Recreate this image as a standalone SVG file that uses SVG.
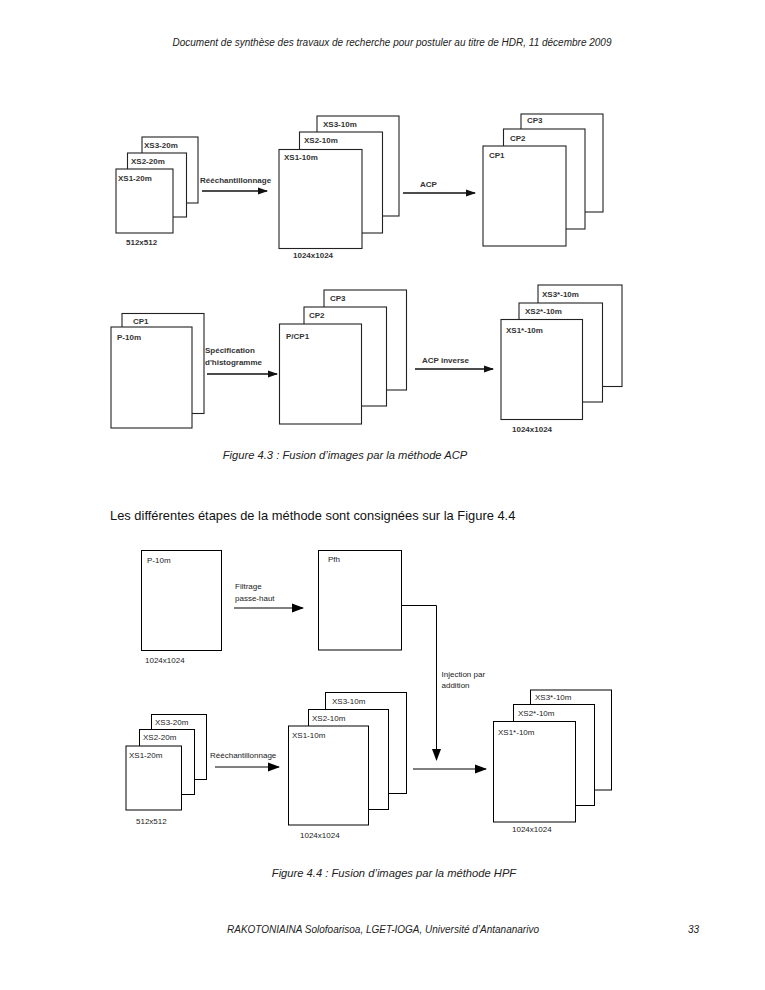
<svg xmlns="http://www.w3.org/2000/svg" width="765" height="990" viewBox="0 0 765 990">
<style>
.pg{fill:#fff}
.top{fill:#fff;stroke:#222;stroke-width:1.1}
.bot{fill:#fff;stroke:#000;stroke-width:1}
.lt{font-family:"Liberation Sans",Arial,sans-serif;font-size:8px;fill:#333;font-weight:bold}
.lb{font-family:"Liberation Sans",Arial,sans-serif;font-size:8px;fill:#222}
.it{font-family:"Liberation Sans",Arial,sans-serif;font-size:10px;font-style:italic;fill:#222}
.cap{font-family:"Liberation Sans",Arial,sans-serif;font-size:11.2px;font-style:italic;fill:#222}
.body{font-family:"Liberation Sans",Arial,sans-serif;font-size:12.9px;fill:#111}
.ln{stroke:#111;stroke-width:1.3;fill:none}
.ln2{stroke:#000;stroke-width:1;fill:none}
</style>
<defs>
<marker id="ah" markerWidth="10" markerHeight="8" refX="9" refY="4" orient="auto" markerUnits="userSpaceOnUse">
<path d="M0,0.5 L10,4 L0,7.5 Z" fill="#111"/>
</marker>
<marker id="ah2" markerWidth="12" markerHeight="10" refX="11" refY="5" orient="auto" markerUnits="userSpaceOnUse">
<path d="M0,0.5 L12,5 L0,9.5 Z" fill="#000"/>
</marker>
</defs>
<rect class="pg" x="0" y="0" width="765" height="990"/>
<text class="it" x="392" y="46" text-anchor="middle">Document de synthèse des travaux de recherche pour postuler au titre de HDR, 11 décembre 2009</text>

<!-- Figure 4.3 -->
<g id="xs20-stack">
<g id="n-xs3-20"><rect class="top" x="142" y="137" width="56" height="66"/><text class="lt" x="144" y="148">XS3-20m</text></g>
<g id="n-xs2-20"><rect class="top" x="127.5" y="153" width="59" height="64"/><text class="lt" x="131" y="164">XS2-20m</text></g>
<g id="n-xs1-20"><rect class="top" x="116" y="169" width="57" height="64"/><text class="lt" x="118" y="181">XS1-20m</text></g>
<text class="lt" x="126" y="245">512x512</text>
</g>
<g id="xs10-stack">
<g id="n-xs3-10"><rect class="top" x="317" y="116" width="82" height="100"/><text class="lt" x="323" y="127">XS3-10m</text></g>
<g id="n-xs2-10"><rect class="top" x="299.5" y="132" width="83" height="101"/><text class="lt" x="304" y="143">XS2-10m</text></g>
<g id="n-xs1-10"><rect class="top" x="279" y="149.5" width="83" height="99"/><text class="lt" x="284" y="160">XS1-10m</text></g>
<text class="lt" x="293" y="258">1024x1024</text>
</g>
<g id="cp-stack">
<g id="n-cp3"><rect class="top" x="521" y="114" width="82" height="98"/><text class="lt" x="527" y="123">CP3</text></g>
<g id="n-cp2"><rect class="top" x="503.5" y="129" width="81.5" height="100"/><text class="lt" x="510" y="141">CP2</text></g>
<g id="n-cp1"><rect class="top" x="483" y="146" width="83" height="100"/><text class="lt" x="489" y="158">CP1</text></g>
</g>
<g id="p-stack">
<g id="n-cp1b"><rect class="top" x="122" y="313.5" width="82" height="100"/><text class="lt" x="133" y="324">CP1</text></g>
<g id="n-p10"><rect class="top" x="111" y="327" width="81" height="101"/><text class="lt" x="117" y="340">P-10m</text></g>
</g>
<g id="pcp-stack">
<g id="n-cp3b"><rect class="top" x="324" y="290" width="82.5" height="100"/><text class="lt" x="330" y="301">CP3</text></g>
<g id="n-cp2b"><rect class="top" x="304" y="307" width="82.5" height="99"/><text class="lt" x="309" y="318">CP2</text></g>
<g id="n-pcp1"><rect class="top" x="279.5" y="324" width="82" height="100"/><text class="lt" x="286" y="339">P/CP1</text></g>
</g>
<g id="xsstar-stack">
<g id="n-xs3s"><rect class="top" x="538" y="285" width="84" height="101.5"/><text class="lt" x="542" y="297">XS3*-10m</text></g>
<g id="n-xs2s"><rect class="top" x="519" y="303" width="83.5" height="99"/><text class="lt" x="525" y="314">XS2*-10m</text></g>
<g id="n-xs1s"><rect class="top" x="501" y="319.5" width="81.5" height="100"/><text class="lt" x="506" y="333">XS1*-10m</text></g>
<text class="lt" x="512" y="432">1024x1024</text>
</g>
<g id="connectors-43">
<line class="ln" x1="202" y1="191" x2="267" y2="191" marker-end="url(#ah)"/>
<text class="lt" x="200" y="183">Rééchantillonnage</text>
<line class="ln" x1="403" y1="193" x2="475" y2="193" marker-end="url(#ah)"/>
<text class="lt" x="420" y="187">ACP</text>
<line class="ln" x1="207" y1="374" x2="277" y2="374" marker-end="url(#ah)"/>
<text class="lt" x="205" y="353">Spécification</text>
<text class="lt" x="205" y="365">d'histogramme</text>
<line class="ln" x1="415" y1="369" x2="493" y2="369" marker-end="url(#ah)"/>
<text class="lt" x="422" y="363">ACP inverse</text>
</g>
<text class="cap" x="345" y="459" text-anchor="middle">Figure 4.3 : Fusion d’images par la méthode ACP</text>

<text class="body" x="110" y="520">Les différentes étapes de la méthode sont consignées sur la Figure 4.4</text>

<!-- Figure 4.4 -->
<g id="n-p10m"><rect class="bot" x="141.5" y="550.5" width="80" height="100"/><text class="lb" x="147" y="563">P-10m</text><text class="lb" x="145" y="663">1024x1024</text></g>
<g id="n-pfh"><rect class="bot" x="318.5" y="550.5" width="83" height="99.5"/><text class="lb" x="328" y="562">Pfh</text></g>
<g id="xs20b-stack">
<g id="n-xs3-20b"><rect class="bot" x="151.5" y="714.5" width="55" height="65"/><text class="lb" x="155" y="725">XS3-20m</text></g>
<g id="n-xs2-20b"><rect class="bot" x="139.5" y="729.5" width="55" height="65"/><text class="lb" x="143" y="740">XS2-20m</text></g>
<g id="n-xs1-20b"><rect class="bot" x="126" y="746" width="55.5" height="64"/><text class="lb" x="129" y="758">XS1-20m</text></g>
<text class="lb" x="136" y="824">512x512</text>
</g>
<g id="xs10b-stack">
<g id="n-xs3-10b"><rect class="bot" x="325.5" y="692.5" width="81" height="101"/><text class="lb" x="332" y="704">XS3-10m</text></g>
<g id="n-xs2-10b"><rect class="bot" x="308.5" y="709.5" width="80" height="100"/><text class="lb" x="312" y="721">XS2-10m</text></g>
<g id="n-xs1-10b"><rect class="bot" x="288.5" y="726" width="80" height="99"/><text class="lb" x="292" y="738">XS1-10m</text></g>
<text class="lb" x="300" y="838">1024x1024</text>
</g>
<g id="xsstarb-stack">
<g id="n-xs3sb"><rect class="bot" x="530.5" y="690" width="81" height="100"/><text class="lb" x="535" y="700">XS3*-10m</text></g>
<g id="n-xs2sb"><rect class="bot" x="513.5" y="704.5" width="81" height="101"/><text class="lb" x="518" y="716">XS2*-10m</text></g>
<g id="n-xs1sb"><rect class="bot" x="493.5" y="721.5" width="82" height="100.5"/><text class="lb" x="498" y="735">XS1*-10m</text></g>
<text class="lb" x="512" y="832">1024x1024</text>
</g>
<g id="connectors-44">
<line class="ln2" x1="234" y1="608" x2="303" y2="608" marker-end="url(#ah2)"/>
<text class="lb" x="235" y="589">Filtrage</text>
<text class="lb" x="235" y="601">passe-haut</text>
<polyline class="ln2" points="401.5,605.5 436.5,605.5 436.5,760" marker-end="url(#ah2)"/>
<text class="lb" x="441.5" y="677">Injection par</text>
<text class="lb" x="441.5" y="688">addition</text>
<line class="ln2" x1="215" y1="767" x2="279" y2="767" marker-end="url(#ah2)"/>
<text class="lb" x="210" y="758">Rééchantillonnage</text>
<line class="ln2" x1="413" y1="769" x2="486" y2="769" marker-end="url(#ah2)"/>
</g>
<text class="cap" x="394" y="877" text-anchor="middle">Figure 4.4 : Fusion d’images par la méthode HPF</text>

<text class="it" x="383" y="933" text-anchor="middle">RAKOTONIAINA Solofoarisoa, LGET-IOGA, Université d’Antananarivo</text>
<text class="it" x="688" y="933">33</text>
</svg>
